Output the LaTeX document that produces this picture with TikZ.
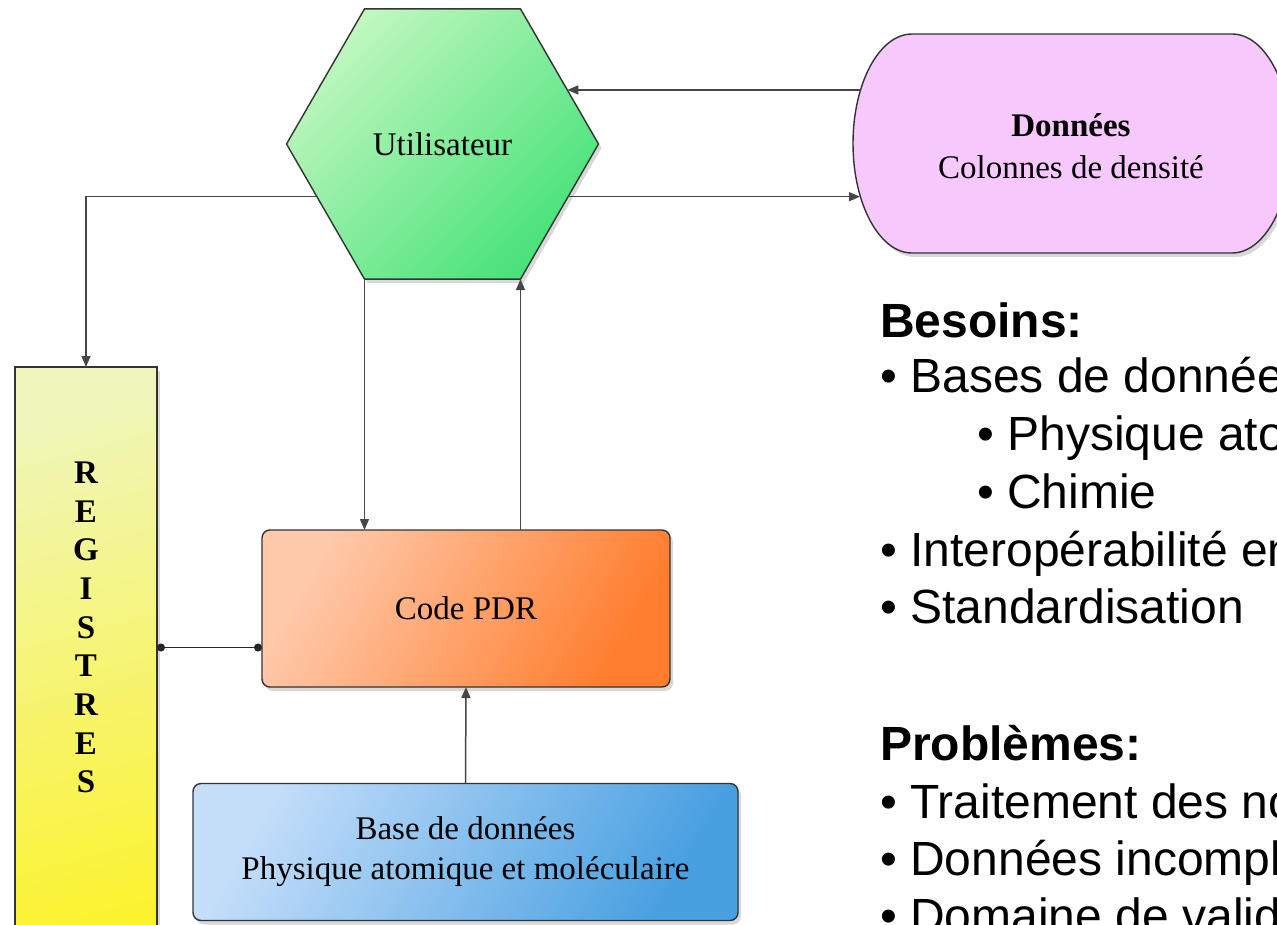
\documentclass[tikz,border=0pt]{standalone}
\usepackage{fontspec}
\setmainfont{Liberation Serif}
\newfontfamily\listfont{Liberation Sans}
\usetikzlibrary{shapes.geometric,shadows,arrows.meta,calc}

\definecolor{usrLight}{RGB}{192,247,190}
\definecolor{usrDark}{RGB}{72,226,122}
\definecolor{regTop}{RGB}{240,246,186}
\definecolor{regBot}{RGB}{252,243,42}
\definecolor{codeLight}{RGB}{255,202,172}
\definecolor{codeDark}{RGB}{255,125,45}
\definecolor{baseLight}{RGB}{196,222,250}
\definecolor{baseDark}{RGB}{72,160,225}
\definecolor{dataFill}{RGB}{246,200,252}
\definecolor{wire}{RGB}{70,70,70}

\begin{document}
\begin{tikzpicture}[x=1pt,y=-1pt,
  every node/.style={font=\fontsize{33}{40}\selectfont, text=black},
  boxline/.style={draw=black!80, line width=1.4pt},
  softshadow/.style={drop shadow={shadow xshift=3pt, shadow yshift=-4pt, opacity=.3}},
  userhex/.style={boxline, softshadow, regular polygon, regular polygon sides=6,
    minimum size=312pt, inner sep=0pt, outer sep=0pt,
    top color=usrLight, bottom color=usrDark, shading angle=45},
  codebox/.style={boxline, softshadow, rectangle, rounded corners=8pt,
    minimum width=408pt, minimum height=157pt, inner sep=0pt, outer sep=0pt,
    top color=codeLight, bottom color=codeDark, shading angle=60},
  basebox/.style={boxline, softshadow, rectangle, rounded corners=8pt,
    minimum width=545pt, minimum height=137pt, inner sep=0pt, outer sep=0pt,
    align=center, top color=baseLight, bottom color=baseDark, shading angle=60},
  regbox/.style={boxline, softshadow, rectangle, minimum width=142pt,
    minimum height=622pt, inner sep=0pt, outer sep=0pt,
    top color=regTop, bottom color=regBot, shading angle=15},
  regletters/.style={align=center, inner sep=0pt,
    font=\bfseries\fontsize{33}{38.7}\selectfont},
  datatext/.style={align=center, inner sep=0pt, minimum width=438pt,
    minimum height=219pt, font=\fontsize{33}{42}\selectfont},
  arr/.style={draw=wire, line width=1.5pt, -{Triangle[length=11pt,width=9pt]}},
  dotlink/.style={draw=black!85, line width=1.3pt,
    {Circle[length=8pt]}-{Circle[length=8pt]}},
  listline/.style={anchor=base west, inner sep=0pt,
    font=\listfont\fontsize{48}{57.5}\selectfont},
]
\useasboundingbox (0,0) rectangle (1277,924);
\fill[white] (0,0) rectangle (1277,924);
\clip (0,0) rectangle (1277,924);

% data store with elliptical ends
\draw[boxline, fill=dataFill, softshadow]
  (912,34) -- (1232,34)
  arc[start angle=90, end angle=-90, x radius=59pt, y radius=109.5pt]
  -- (912,253)
  arc[start angle=270, end angle=90, x radius=59pt, y radius=109.5pt]
  -- cycle;
\node[datatext] (data) at (1071,146) {\textbf{Données}\\Colonnes de densité};
\coordinate (dUp) at (861,90);
\coordinate (dLow) at (860,197);

% main blocks
\node[userhex] (user) at (442.5,144) {Utilisateur};
\node[regbox] (reg) at (86,678) {};
\node[regletters] (regtxt) at (86,627.5) {R\\E\\G\\I\\S\\T\\R\\E\\S};
\node[codebox] (code) at (466,608.5) {Code PDR};
\node[basebox] (base) at (465.5,852) {Base de données\\Physique atomique et moléculaire};

% points on the hexagon border (corner 1 = top right, counter-clockwise)
\coordinate (uR1) at ($(user.corner 1)!0.6!(user.corner 6)$);
\coordinate (uR2) at ($(user.corner 6)!0.39!(user.corner 5)$);
\coordinate (uL)  at ($(user.corner 3)!0.39!(user.corner 4)$);
\coordinate (link) at ([yshift=-39pt]code.west);

% connectors
\draw[arr] (dUp |- uR1) -- (uR1);
\draw[arr] (uR2) -- (uR2 -| dLow);
\draw[arr] (uL) -| (reg.north);
\draw[arr] (user.corner 4) -- (user.corner 4 |- code.north);
\draw[arr] (user.corner 5 |- code.north) -- (user.corner 5);
\draw[arr] (base.north) -- (code.south);
\draw[dotlink] (reg.east |- link) -- (link);

% requirements and issues
\node[listline] (bes) at (880,337) {\bfseries Besoins:};
\node[listline] (b1) at (880,392) {• Bases de données};
\node[listline] (b2) at (977,450) {• Physique atomique};
\node[listline] (b3) at (977,508) {• Chimie};
\node[listline] (b4) at (880,566) {• Interopérabilité en};
\node[listline] (b5) at (880,623) {• Standardisation};
\node[listline] (pro) at (880,760) {\bfseries Problèmes:};
\node[listline] (p1) at (880,818) {• Traitement des no};
\node[listline] (p2) at (880,875) {• Données incomplètes};
\node[listline] (p3) at (880,932) {• Domaine de validité};
\end{tikzpicture}
\end{document}
